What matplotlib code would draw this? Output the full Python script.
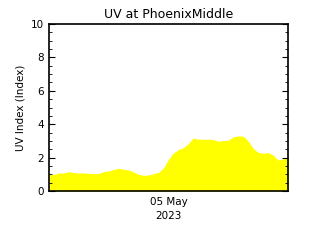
import matplotlib
matplotlib.use("Agg")
import matplotlib.pyplot as plt
import numpy as np
from matplotlib.ticker import MultipleLocator

hours = list(range(49))
uv = [1.0, 1.0, 1.08, 1.08, 1.16, 1.1, 1.08, 1.08, 1.06, 1.04, 1.04, 1.18, 1.2,
      1.3, 1.36, 1.3, 1.26, 1.14, 1.0, 0.94, 0.96, 1.04, 1.12, 1.38, 1.9, 2.28,
      2.48, 2.6, 2.85, 3.18, 3.1, 3.1, 3.1, 3.08, 2.98, 3.02, 3.04, 3.24, 3.3,
      3.28, 3.0, 2.56, 2.32, 2.26, 2.3, 2.16, 1.86, 1.92, 1.98]
xtick_pos = [24]
xtick_labels = ["05 May\n2023"]

fig = plt.figure(figsize=(3.2, 2.4), dpi=100)
ax = fig.add_axes([0.153, 0.204, 0.747, 0.696])
ax.fill_between(hours, 0, uv, color="#FFFF00", linewidth=0)
ax.set_xlim(0, 48)
ax.set_ylim(0, 10)
ax.set_xticks(xtick_pos)
ax.set_xticklabels(xtick_labels, fontsize=7.5, linespacing=1.6)
ax.set_yticks([0, 2, 4, 6, 8, 10])
ax.yaxis.set_minor_locator(MultipleLocator(0.5))
ax.tick_params(axis="y", which="both", direction="in", left=True, right=True, labelsize=7.5)
ax.tick_params(axis="y", which="major", length=4.5)
ax.tick_params(axis="y", which="minor", length=2.5)
ax.tick_params(axis="x", length=0, pad=4)
for s in ax.spines.values():
    s.set_linewidth(1.2)
ax.set_ylabel("UV Index (Index)", fontsize=7.5)
ax.set_title("UV at PhoenixMiddle", fontsize=9, pad=4)
fig.savefig("out.png", dpi=100)
